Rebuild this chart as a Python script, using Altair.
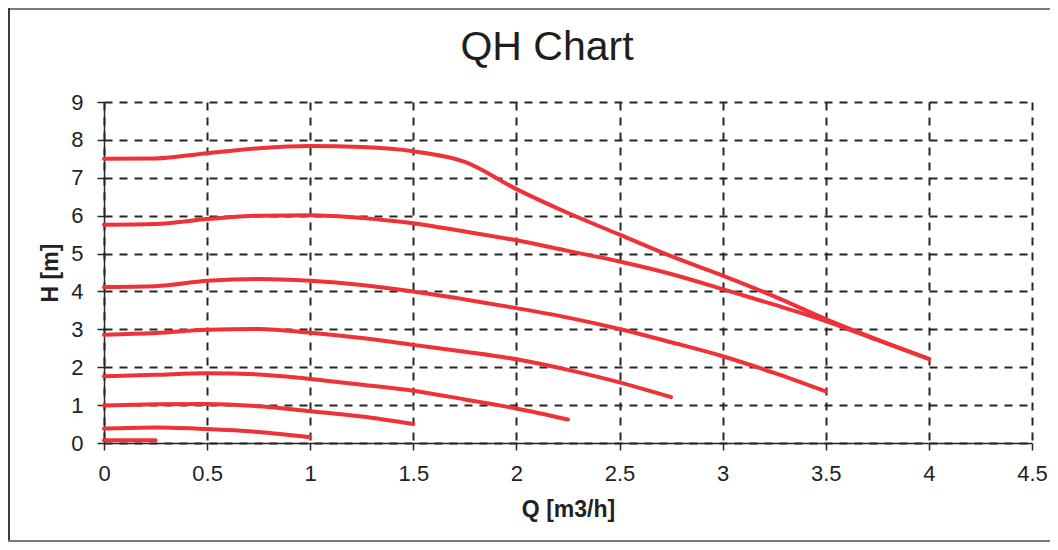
import altair as alt
import pandas as pd

# Flow rate Q [m3/h] and head H [m], one array per curve
Q_STEPS = [0, 0.25, 0.5, 0.75, 1, 1.25, 1.5, 1.75, 2, 2.25, 2.5, 2.75, 3, 3.25, 3.5, 3.75, 4]

H1 = [7.50, 7.51, 7.65, 7.78, 7.84, 7.81, 7.70, 7.42, 6.70, 6.07, 5.50, 4.93, 4.42, 3.87, 3.27, 2.73, 2.22]
H2 = [5.76, 5.78, 5.91, 6.00, 6.01, 5.94, 5.80, 5.58, 5.35, 5.07, 4.79, 4.46, 4.06, 3.65, 3.22, 2.72, 2.22]
H3 = [4.12, 4.14, 4.28, 4.33, 4.28, 4.17, 4.00, 3.79, 3.56, 3.31, 3.01, 2.66, 2.29, 1.85, 1.36]
H4 = [2.86, 2.90, 2.99, 3.01, 2.91, 2.77, 2.59, 2.41, 2.21, 1.93, 1.60, 1.21]
H5 = [1.76, 1.80, 1.84, 1.81, 1.69, 1.54, 1.38, 1.15, 0.91, 0.62]
H6 = [0.99, 1.02, 1.03, 0.97, 0.84, 0.70, 0.50]
H7 = [0.38, 0.41, 0.37, 0.29, 0.15]
H8 = [0.07, 0.07]

CURVES = [H1, H2, H3, H4, H5, H6, H7, H8]

X_TICKS = [0, 0.5, 1, 1.5, 2, 2.5, 3, 3.5, 4, 4.5]
Y_TICKS = [0, 1, 2, 3, 4, 5, 6, 7, 8, 9]

rows = []
for ci, hs in enumerate(CURVES):
    for q, h in zip(Q_STEPS, hs):
        rows.append({"curve": ci, "Q": q, "H": h})
df = pd.DataFrame(rows)

FONT = "Liberation Sans"
RED = "#EE3237"
GRID = "#262626"

W, H = 928, 341
PAD_L, PAD_T, PAD_R, PAD_B = 96, 94, 18, 99

x_enc = alt.X(
    "Q:Q",
    scale=alt.Scale(domain=[0, 4.5], nice=False, zero=False),
    axis=alt.Axis(
        values=X_TICKS, format="~g", title="Q [m3/h]",
        titleX=W / 2, titleY=73, titleAlign="center", titleBaseline="alphabetic",
        labelPadding=13, labelFlush=False,
    ),
)
y_enc = alt.Y(
    "H:Q",
    scale=alt.Scale(domain=[0, 9], nice=False, zero=False),
    axis=alt.Axis(
        values=Y_TICKS, format="~g", title="H [m]",
        titleX=-47, titleY=H / 2, titleAngle=270, titleAlign="center",
        titleBaseline="alphabetic", labelPadding=14, labelFlush=False,
    ),
)

lines = alt.Chart(df).mark_line(
    color=RED, strokeWidth=4, interpolate="monotone", strokeCap="round"
).encode(x=x_enc, y=y_enc, detail="curve:N")

one = alt.Data(values=[{"a": 1}])
FRAME = "#3c3c3c"
frame_top = alt.Chart(one).mark_rule(color="#7a7a7a", strokeWidth=2).encode(
    x=alt.value(-PAD_L), x2=alt.value(W + PAD_R), y=alt.value(-PAD_T + 1), y2=alt.value(-PAD_T + 1)
)
frame_left = alt.Chart(one).mark_rule(color=FRAME, strokeWidth=2).encode(
    x=alt.value(-PAD_L + 1), x2=alt.value(-PAD_L + 1), y=alt.value(-PAD_T), y2=alt.value(H + PAD_B)
)
frame_bottom = alt.Chart(one).mark_rule(color="#7a7a7a", strokeWidth=2).encode(
    x=alt.value(-PAD_L), x2=alt.value(W + PAD_R), y=alt.value(H + PAD_B - 1), y2=alt.value(H + PAD_B - 1)
)

chart = alt.layer(lines, frame_top, frame_left, frame_bottom).properties(
    width=W,
    height=H,
    autosize=alt.AutoSizeParams(type="none"),
    padding={"left": PAD_L, "top": PAD_T, "right": PAD_R, "bottom": PAD_B},
    background="white",
    title=alt.TitleParams(
        "QH Chart", font=FONT, fontSize=41, fontWeight="normal", color="#1e1e1e",
        anchor="middle", frame="group", offset=0, baseline="alphabetic", dx=-21, dy=94,
    ),
).configure_view(stroke="transparent").configure_axis(
    labelFont=FONT, labelFontSize=22, labelColor="#222222",
    titleFont=FONT, titleFontSize=23, titleFontWeight="bold", titleColor="#222222",
    domainColor=GRID, domainWidth=1.5,
    tickColor=GRID, tickWidth=1.5, tickSize=7,
    gridColor=GRID, gridWidth=2, gridDash=[8, 7], gridOpacity=1,
)

chart.save("out.html", embed_options={"renderer": "svg", "actions": False})
